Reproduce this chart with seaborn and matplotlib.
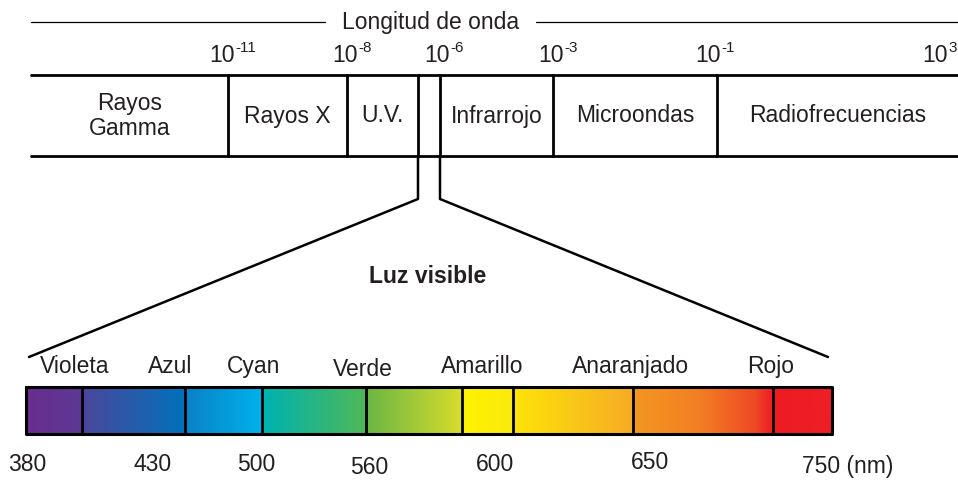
import numpy as np
import seaborn as sns
import matplotlib.pyplot as plt
from matplotlib.colors import to_rgb

sns.set_style("white")
plt.rcParams['font.family'] = ['Liberation Sans', 'DejaVu Sans']

# upper band: electromagnetic spectrum
band_names = ['Rayos\nGamma', 'Rayos X', 'U.V.', '', 'Infrarrojo', 'Microondas', 'Radiofrecuencias']
band_edges = [31, 228, 347, 418, 440, 553, 717, 958]
exp_labels = ['-11', '-8', '-6', '-3', '-1', '3']
exp_pos = [235, 358, 450, 564, 721, 948]

# lower band: visible light
color_names = ['Violeta', 'Azul', 'Cyan', 'Verde', 'Amarillo', 'Anaranjado', 'Rojo']
color_name_pos = [75, 170, 254, 363, 482, 631, 771]
color_edges = [26, 82, 185, 262, 366, 462, 513, 633, 773, 832]
nm_labels = ['380', '430', '500', '560', '600', '650', '750 (nm)']
nm_pos = [27, 153, 256, 369, 495, 650, 848]

grad_x = [26, 82, 84, 185, 187, 262, 264, 366, 368, 460, 464, 513, 516, 633, 636, 700, 755, 773, 832]
grad_c = ['#6a2d8f', '#5c3995', '#4a479c', '#0072bb', '#0a82c9', '#00b3ea', '#00b2b0', '#4fb857',
          '#6cb644', '#d6dc2c', '#fff200', '#fbea0e', '#fde309', '#f7ab25', '#f49622', '#f37e23',
          '#ef4a25', '#ed1c24', '#ed1f24']

TXT = '#231f20'
FS = 16.5

fig = plt.figure(figsize=(9.58, 4.81), dpi=100)
ax = fig.add_axes([0, 0, 1, 1])
ax.set_xlim(0, 958)
ax.set_ylim(481, 0)
ax.axis('off')

# title line
ax.plot([31, 325], [23, 23], color='black', lw=0.9)
ax.plot([536, 958], [23, 23], color='black', lw=0.9)
ax.text(431, 22, 'Longitud de onda', ha='center', va='center', fontsize=FS, color=TXT)

for e, x in zip(exp_labels, exp_pos):
    ax.text(x, 62, '10', ha='right', va='baseline', fontsize=FS, color=TXT)
    ax.text(x, 52, e, ha='left', va='baseline', fontsize=11, color=TXT)

# spectrum table
ax.plot([31, 958], [76, 76], color='black', lw=2)
ax.plot([31, 958], [157, 157], color='black', lw=2)
for x in band_edges[1:-1]:
    ax.plot([x, x], [76, 157], color='black', lw=2)
for name, a, b in zip(band_names, band_edges[:-1], band_edges[1:]):
    ax.text((a + b) / 2, 116, name, ha='center', va='center', fontsize=FS, color=TXT,
            linespacing=1.15)

# zoom lines to visible light
ax.plot([418, 418, 29], [157, 200, 358], color='black', lw=1.8)
ax.plot([440, 440, 828], [157, 200, 358], color='black', lw=1.8)
ax.text(428, 277, 'Luz visible', ha='center', va='center', fontsize=FS, color=TXT,
        fontweight='bold')

# gradient bar
xs = np.arange(26, 833)
rgb = np.array([to_rgb(c) for c in grad_c])
img = np.stack([np.interp(xs, grad_x, rgb[:, k]) for k in range(3)], axis=-1)[None, :, :]
ax.imshow(img, extent=(26, 832, 435, 388), aspect='auto', interpolation='bilinear', zorder=1)
ax.plot([26, 832, 832, 26, 26], [388, 388, 435, 435, 388], color='black', lw=2.2, zorder=3)
for x in color_edges[1:-1]:
    ax.plot([x, x], [388, 435], color='black', lw=2, zorder=3)
ax.set_xlim(0, 958)
ax.set_ylim(481, 0)

for name, x in zip(color_names, color_name_pos):
    y = 370 if name == 'Verde' else 367
    ax.text(x, y, name, ha='center', va='center', fontsize=FS, color=TXT)

for lab, x in zip(nm_labels, nm_pos):
    y = {'560': 468, '650': 463, '750 (nm)': 467}.get(lab, 465)
    ax.text(x, y, lab, ha='center', va='center', fontsize=FS, color=TXT)

fig.savefig('out.png', dpi=100, facecolor='white')
